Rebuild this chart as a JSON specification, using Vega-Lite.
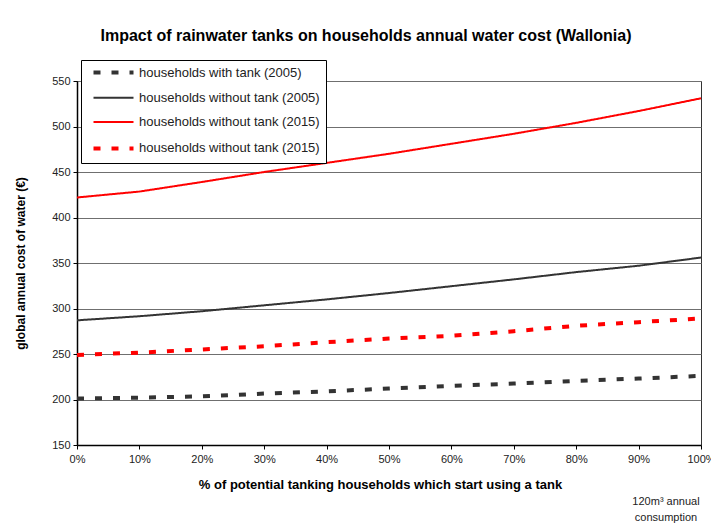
{
  "$schema": "https://vega.github.io/schema/vega-lite/v6.json",
  "width": 624,
  "height": 364,
  "autosize": {"type": "none"},
  "padding": {"left": 77, "top": 81, "right": 10, "bottom": 81},
  "background": "white",
  "title": {
    "text": "Impact of rainwater tanks on households annual water cost (Wallonia)",
    "font": "Liberation Sans",
    "fontSize": 16,
    "fontWeight": "bold",
    "color": "#000",
    "dx": -23,
    "offset": 16,
    "frame": "group"
  },
  "config": {
    "font": "Liberation Sans",
    "view": {"stroke": "#333", "strokeWidth": 1}
  },
  "layer": [
    {
      "data": {
        "values": [
          {"p": 0.0, "cost": 201, "series": "households with tank (2005)"},
          {"p": 0.1, "cost": 202, "series": "households with tank (2005)"},
          {"p": 0.2, "cost": 203.5, "series": "households with tank (2005)"},
          {"p": 0.3, "cost": 206.5, "series": "households with tank (2005)"},
          {"p": 0.4, "cost": 209, "series": "households with tank (2005)"},
          {"p": 0.5, "cost": 212, "series": "households with tank (2005)"},
          {"p": 0.6, "cost": 215, "series": "households with tank (2005)"},
          {"p": 0.7, "cost": 217.5, "series": "households with tank (2005)"},
          {"p": 0.8, "cost": 220.5, "series": "households with tank (2005)"},
          {"p": 0.9, "cost": 223, "series": "households with tank (2005)"},
          {"p": 1.0, "cost": 226, "series": "households with tank (2005)"},
          {"p": 0.0, "cost": 287, "series": "households without tank (2005)"},
          {"p": 0.1, "cost": 291.5, "series": "households without tank (2005)"},
          {"p": 0.2, "cost": 297, "series": "households without tank (2005)"},
          {"p": 0.3, "cost": 303.5, "series": "households without tank (2005)"},
          {"p": 0.4, "cost": 310, "series": "households without tank (2005)"},
          {"p": 0.5, "cost": 317, "series": "households without tank (2005)"},
          {"p": 0.6, "cost": 324.5, "series": "households without tank (2005)"},
          {"p": 0.7, "cost": 332, "series": "households without tank (2005)"},
          {"p": 0.8, "cost": 340, "series": "households without tank (2005)"},
          {"p": 0.9, "cost": 347, "series": "households without tank (2005)"},
          {"p": 1.0, "cost": 356, "series": "households without tank (2005)"},
          {"p": 0.0, "cost": 422, "series": "households without tank (2015)"},
          {"p": 0.1, "cost": 428.5, "series": "households without tank (2015)"},
          {"p": 0.2, "cost": 439, "series": "households without tank (2015)"},
          {"p": 0.3, "cost": 450, "series": "households without tank (2015)"},
          {"p": 0.4, "cost": 460, "series": "households without tank (2015)"},
          {"p": 0.5, "cost": 470, "series": "households without tank (2015)"},
          {"p": 0.6, "cost": 481, "series": "households without tank (2015)"},
          {"p": 0.7, "cost": 492, "series": "households without tank (2015)"},
          {"p": 0.8, "cost": 504, "series": "households without tank (2015)"},
          {"p": 0.9, "cost": 517, "series": "households without tank (2015)"},
          {"p": 1.0, "cost": 531, "series": "households without tank (2015)"},
          {"p": 0.0, "cost": 249, "series": "households with tank (2015)"},
          {"p": 0.1, "cost": 251.5, "series": "households with tank (2015)"},
          {"p": 0.2, "cost": 255, "series": "households with tank (2015)"},
          {"p": 0.3, "cost": 258.5, "series": "households with tank (2015)"},
          {"p": 0.4, "cost": 263, "series": "households with tank (2015)"},
          {"p": 0.5, "cost": 267, "series": "households with tank (2015)"},
          {"p": 0.6, "cost": 270, "series": "households with tank (2015)"},
          {"p": 0.7, "cost": 275, "series": "households with tank (2015)"},
          {"p": 0.8, "cost": 281, "series": "households with tank (2015)"},
          {"p": 0.9, "cost": 285, "series": "households with tank (2015)"},
          {"p": 1.0, "cost": 289, "series": "households with tank (2015)"}
        ]
      },
      "mark": {"type": "line", "clip": false},
      "encoding": {
        "x": {
          "field": "p",
          "type": "quantitative",
          "scale": {"domain": [0, 1], "nice": false},
          "axis": {
            "title": "% of potential tanking households which start using a tank",
            "titleFont": "Liberation Sans",
            "titleFontSize": 13,
            "titleFontWeight": "bold",
            "titleColor": "#000",
            "titlePadding": 14,
            "titleX": 303,
            "format": ".0%",
            "values": [0, 0.1, 0.2, 0.3, 0.4, 0.5, 0.6, 0.7, 0.8, 0.9, 1],
            "labelFontSize": 11,
            "labelColor": "#222",
            "labelPadding": 4,
            "labelFlush": false,
            "tickColor": "#000",
            "tickSize": 4,
            "domainColor": "#000",
            "domainWidth": 1.5,
            "grid": false
          }
        },
        "y": {
          "field": "cost",
          "type": "quantitative",
          "scale": {"domain": [150, 550], "nice": false, "zero": false},
          "axis": {
            "title": "global annual cost of water (€)",
            "titleFont": "Liberation Sans",
            "titleFontSize": 12,
            "titleFontWeight": "bold",
            "titleColor": "#000",
            "titlePadding": 24,
            "values": [150, 200, 250, 300, 350, 400, 450, 500, 550],
            "labelFontSize": 11,
            "labelColor": "#222",
            "labelPadding": 3,
            "tickColor": "#000",
            "tickSize": 4,
            "domainColor": "#000",
            "domainWidth": 1.5,
            "grid": true,
            "gridColor": "#6f6f6f",
            "gridWidth": 1.2
          }
        },
        "color": {
          "field": "series",
          "type": "nominal",
          "scale": {
            "domain": ["households with tank (2005)", "households without tank (2005)", "households without tank (2015)", "households with tank (2015)"],
            "range": ["#333333", "#333333", "#ff0000", "#ff0000"]
          },
          "legend": {
            "title": null,
            "orient": "none",
            "legendX": 4,
            "legendY": -21,
            "fillColor": "white",
            "strokeColor": "#000",
            "padding": 6,
            "rowPadding": 10.3,
            "symbolType": "M-2.5,0H2.5",
            "symbolSize": 256,
            "symbolOffset": 20,
            "labelOffset": 19,
            "labelFont": "Liberation Sans",
            "labelFontSize": 13,
            "labelColor": "#222",
            "labelLimit": 300,
            "labelExpr": "datum.label == 'households with tank (2015)' ? 'households without tank (2015)' : datum.label",
            "encode": {
              "symbols": {
                "update": {
                  "strokeWidth": {"signal": "indexof(['households with tank (2005)', 'households with tank (2015)'], datum.value) >= 0 ? 4 : 2"}
                }
              }
            }
          }
        },
        "strokeDash": {
          "field": "series",
          "type": "nominal",
          "scale": {
            "domain": ["households with tank (2005)", "households without tank (2005)", "households without tank (2015)", "households with tank (2015)"],
            "range": [[7, 11], [1, 0], [1, 0], [7, 11]]
          },
          "legend": {
            "title": null,
            "orient": "none",
            "legendX": 4,
            "legendY": -21,
            "fillColor": "white",
            "strokeColor": "#000",
            "padding": 6,
            "rowPadding": 10.3,
            "symbolType": "M-2.5,0H2.5",
            "symbolSize": 256,
            "symbolOffset": 20,
            "labelOffset": 19,
            "labelFont": "Liberation Sans",
            "labelFontSize": 13,
            "labelColor": "#222",
            "labelLimit": 300,
            "labelExpr": "datum.label == 'households with tank (2015)' ? 'households without tank (2015)' : datum.label",
            "encode": {
              "symbols": {
                "update": {
                  "strokeWidth": {"signal": "indexof(['households with tank (2005)', 'households with tank (2015)'], datum.value) >= 0 ? 4 : 2"}
                }
              }
            }
          }
        },
        "strokeWidth": {
          "condition": {
            "test": "datum.series == 'households with tank (2005)' || datum.series == 'households with tank (2015)'",
            "value": 4
          },
          "value": 2
        }
      }
    },
    {
      "data": {"values": [{"note": "consumption label"}]},
      "mark": {
        "type": "text",
        "text": ["120m³ annual", "consumption"],
        "font": "Liberation Sans",
        "fontSize": 11,
        "lineHeight": 16,
        "align": "center",
        "baseline": "top",
        "color": "#222",
        "dx": -35,
        "dy": 51,
        "clip": false
      },
      "encoding": {
        "x": {"datum": 1, "type": "quantitative"},
        "y": {"datum": 150, "type": "quantitative"}
      }
    }
  ]
}
